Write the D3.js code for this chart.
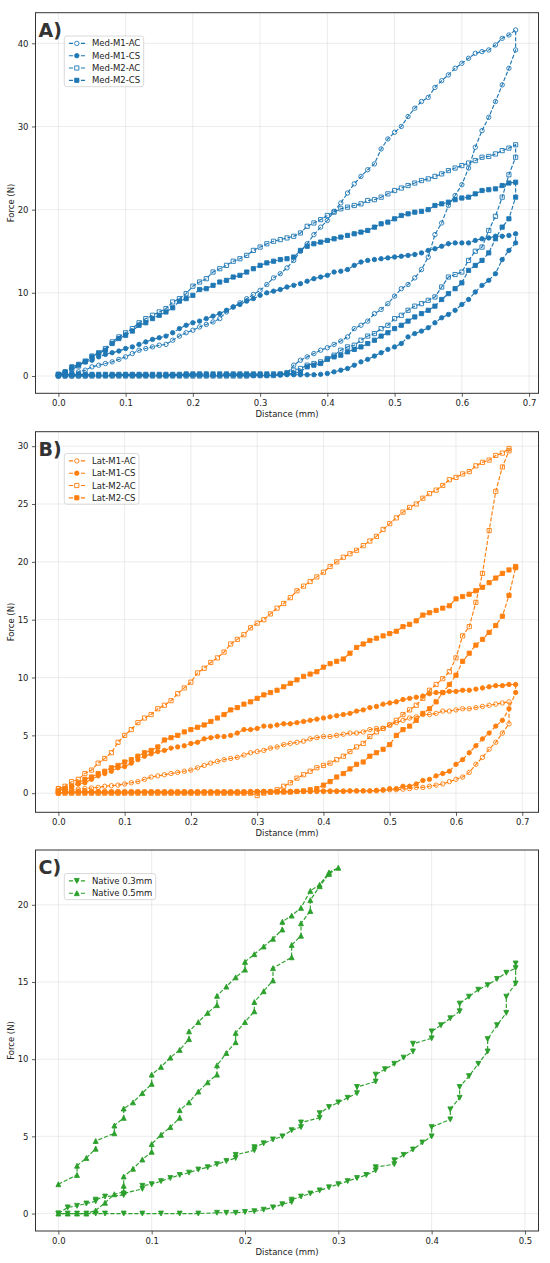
<!DOCTYPE html>
<html>
<head>
<meta charset="utf-8">
<script src="https://cdn.jsdelivr.net/npm/d3@7"></script>
<style>
  body { margin: 0; background: #fff; }
  text { font-family: "DejaVu Sans", sans-serif; }
</style>
</head>
<body>
<div id="chart"></div>
<script>
// distance grid (mm) shared by panels A and B
const distGrid = [0.00, 0.01, 0.02, 0.03, 0.04, 0.05, 0.06, 0.07, 0.08, 0.09,
  0.10, 0.11, 0.12, 0.13, 0.14, 0.15, 0.16, 0.17, 0.18, 0.19,
  0.20, 0.21, 0.22, 0.23, 0.24, 0.25, 0.26, 0.27, 0.28, 0.29,
  0.30, 0.31, 0.32, 0.33, 0.34, 0.35, 0.36, 0.37, 0.38, 0.39,
  0.40, 0.41, 0.42, 0.43, 0.44, 0.45, 0.46, 0.47, 0.48, 0.49,
  0.50, 0.51, 0.52, 0.53, 0.54, 0.55, 0.56, 0.57, 0.58, 0.59,
  0.60, 0.61, 0.62, 0.63, 0.64, 0.65, 0.66, 0.67, 0.68, 0.69];

// ---- panel A: medial (force N, loading from 0 up, unloading from max down) ----
const medM1AC_load = [0, 0.1, 0.3, 0.5, 0.7, 1.1, 1.3, 1.5, 1.7, 2.0,
  2.3, 2.7, 3.1, 3.3, 3.5, 3.7, 3.8, 4.3, 4.8, 5.2,
  5.5, 5.9, 6.2, 6.5, 6.9, 7.7, 8.3, 8.8, 9.3, 9.8,
  10.3, 11.0, 11.8, 12.3, 13.0, 13.9, 15.0, 15.9, 17.0, 17.9,
  18.7, 19.8, 20.8, 22.0, 23.1, 24.0, 24.8, 25.5, 27.3, 28.5,
  29.3, 30.0, 31.2, 32.2, 33.0, 33.5, 34.7, 35.5, 36.2, 37.0,
  37.6, 38.2, 38.8, 39.0, 39.2, 39.8, 40.6, 41.0, 41.6];
const medM1AC_unload = [39.2, 37.0, 35.0, 33.0, 31.1, 29.5, 27.5, 25.0, 23.0, 21.7,
  20.5, 18.4, 17.0, 14.3, 12.8, 11.8, 11.0, 10.5, 9.6, 8.7,
  8.0, 7.5, 6.6, 6.1, 5.7, 4.7, 4.2, 3.8, 3.4, 3.1,
  2.7, 2.3, 1.9, 1.3, 0.3, 0.1, 0.1, 0.05, 0.05, 0.05,
  0.05, 0.05, 0.05, 0.05, 0.05, 0.05, 0.05, 0.05, 0.05, 0.05,
  0.05, 0.05, 0.05, 0.05, 0.05, 0.05, 0.05, 0.05, 0.05, 0.05,
  0.05, 0.05, 0.05, 0.05, 0, 0, 0, 0, 0];

const medM1CS_load = [0.1, 0.5, 0.9, 1.3, 1.7, 1.9, 2.3, 2.6, 2.8, 3.0,
  3.3, 3.5, 3.8, 4.1, 4.4, 4.6, 4.8, 5.2, 5.7, 6.1,
  6.4, 6.6, 6.9, 7.2, 7.5, 7.9, 8.3, 8.6, 9.0, 9.3,
  9.7, 10.0, 10.2, 10.4, 10.7, 10.9, 11.1, 11.4, 11.7, 11.9,
  12.1, 12.5, 12.6, 12.8, 13.3, 13.7, 13.9, 14.0, 14.1, 14.2,
  14.3, 14.4, 14.5, 14.6, 14.8, 15.1, 15.3, 15.6, 15.9, 16.0,
  16.0, 16.0, 16.3, 16.5, 16.6, 16.8, 16.8, 16.9, 17.1];
const medM1CS_unload = [16.0, 15.1, 14.0, 12.3, 11.5, 10.9, 10.1, 9.2, 8.6, 7.9,
  7.4, 7.0, 6.4, 5.8, 5.4, 5.1, 4.7, 3.9, 3.5, 3.2,
  2.8, 2.4, 2.0, 1.7, 1.3, 0.9, 0.7, 0.5, 0.3, 0.2,
  0.15, 0.15, 0.15, 0.15, 0.15, 0.15, 0.15, 0.15, 0.15, 0.15,
  0.15, 0.15, 0.15, 0.15, 0.15, 0.15, 0.15, 0.15, 0.15, 0.15,
  0.1, 0.1, 0.1, 0.1, 0.1, 0.1, 0.1, 0.1, 0.1, 0.1,
  0.1, 0.1, 0.1, 0.1, 0.1, 0.1, 0.1, 0.1, 0.1];

const medM2AC_load = [0.1, 0.4, 0.8, 1.2, 1.8, 2.4, 2.8, 3.3, 4.1, 4.7,
  5.2, 5.7, 6.4, 6.9, 7.3, 7.7, 8.1, 8.9, 9.3, 9.9,
  10.8, 11.3, 11.7, 12.5, 12.9, 13.3, 13.8, 14.1, 14.5, 15.1,
  15.5, 15.9, 16.2, 16.4, 16.6, 16.8, 17.2, 18.0, 18.4, 18.8,
  19.3, 19.7, 20.1, 20.3, 20.5, 20.7, 21.1, 21.2, 21.5, 21.9,
  22.3, 22.6, 22.9, 23.2, 23.5, 23.7, 24.0, 24.3, 24.7, 25.0,
  25.3, 25.6, 25.9, 26.3, 26.4, 26.7, 27.1, 27.4, 27.8];
const medM2AC_unload = [26.3, 24.2, 21.5, 19.2, 17.5, 15.5, 15.0, 13.9, 12.5, 12.2,
  11.9, 10.7, 9.5, 9.1, 8.7, 8.4, 7.9, 7.3, 6.9, 6.1,
  5.7, 5.1, 4.8, 4.3, 3.7, 3.5, 3.1, 2.5, 2.1, 1.7,
  1.5, 1.3, 0.9, 0.7, 0.4, 0.2, 0.05, 0.05, 0.05, 0.05,
  0, 0, 0, 0, 0, 0, 0, 0, 0, 0,
  0, 0, 0, 0, 0, 0, 0, 0, 0, 0,
  0, 0, 0, 0, 0, 0, 0, 0, 0];

const medM2CS_load = [0.2, 0.5, 1.1, 1.4, 1.7, 2.3, 2.7, 3.1, 3.9, 4.5,
  4.9, 5.4, 6.1, 6.4, 6.9, 7.3, 7.7, 8.2, 9.0, 9.3,
  9.7, 10.4, 10.5, 10.9, 11.3, 11.5, 11.9, 12.1, 12.5, 12.9,
  13.3, 13.6, 13.8, 14.0, 14.1, 14.3, 15.1, 15.6, 15.9, 16.1,
  16.3, 16.5, 16.7, 16.9, 17.1, 17.3, 17.5, 17.9, 18.3, 18.5,
  18.9, 19.3, 19.5, 19.7, 19.8, 20.0, 20.5, 20.7, 20.9, 21.2,
  21.4, 21.5, 21.9, 22.3, 22.4, 22.5, 22.9, 23.2, 23.3];
const medM2CS_unload = [21.5, 18.9, 17.9, 16.5, 14.8, 13.9, 13.3, 12.7, 11.2, 10.5,
  9.9, 9.2, 8.4, 7.9, 7.5, 7.1, 6.6, 6.1, 5.7, 5.2,
  4.8, 4.3, 3.9, 3.5, 3.2, 2.9, 2.5, 2.3, 2.0, 1.5,
  1.3, 1.1, 0.5, 0.3, 0.3, 0.25, 0.25, 0.25, 0.25, 0.25,
  0.25, 0.25, 0.25, 0.25, 0.25, 0.25, 0.25, 0.25, 0.25, 0.25,
  0.2, 0.2, 0.2, 0.2, 0.2, 0.2, 0.2, 0.2, 0.2, 0.2,
  0.2, 0.2, 0.2, 0.2, 0.2, 0.2, 0.2, 0.2, 0.2];

// ---- panel B: lateral ----
const latM1AC_load = [0.4, 0.3, 0.3, 0.35, 0.4, 0.45, 0.5, 0.6, 0.65, 0.7,
  0.8, 0.9, 1.0, 1.2, 1.4, 1.5, 1.6, 1.7, 1.8, 1.9,
  2.0, 2.2, 2.4, 2.6, 2.75, 2.9, 3.0, 3.1, 3.3, 3.5,
  3.6, 3.7, 3.9, 4.0, 4.2, 4.3, 4.4, 4.5, 4.7, 4.8,
  4.9, 4.9, 5.0, 5.1, 5.2, 5.2, 5.3, 5.5, 5.6, 5.6,
  5.9, 6.1, 6.3, 6.5, 6.6, 6.8, 6.8, 6.9, 7.1, 7.1,
  7.2, 7.3, 7.3, 7.4, 7.5, 7.6, 7.7, 7.8, 7.9];
const latM1AC_unload = [6.0, 5.2, 4.4, 3.8, 3.1, 2.5, 1.8, 1.4, 1.2, 1.0,
  0.8, 0.7, 0.6, 0.5, 0.5, 0.4, 0.35, 0.3, 0.3, 0.25,
  0.2, 0.2, 0.2, 0.2, 0.2, 0.2, 0.2, 0.2, 0.2, 0.2,
  0.15, 0.15, 0.15, 0.15, 0.15, 0.15, 0.15, 0.15, 0.15, 0.15,
  0.1, 0.1, 0.1, 0.1, 0.1, 0.1, 0.1, 0.1, 0.1, 0.1,
  0.1, 0.1, 0.1, 0.1, 0.1, 0.1, 0.1, 0.1, 0.1, 0.1,
  0.1, 0.1, 0.1, 0.1, 0.1, 0.1, 0.1, 0.1, 0];

const latM1CS_load = [0.2, 0.4, 0.6, 0.8, 0.9, 1.2, 1.5, 1.7, 1.9, 2.2,
  2.3, 2.6, 2.9, 3.2, 3.4, 3.6, 3.7, 3.9, 4.0, 4.1,
  4.3, 4.4, 4.7, 4.8, 4.9, 4.9, 5.0, 5.2, 5.5, 5.5,
  5.6, 5.8, 5.8, 5.9, 6.0, 6.0, 6.1, 6.2, 6.3, 6.4,
  6.5, 6.6, 6.7, 6.8, 6.9, 7.1, 7.2, 7.4, 7.5, 7.7,
  7.8, 7.9, 8.1, 8.2, 8.3, 8.4, 8.6, 8.7, 8.7, 8.8,
  8.8, 8.9, 8.9, 9.0, 9.1, 9.2, 9.3, 9.3, 9.4, 9.4];
const latM1CS_unload = [8.7, 7.3, 6.3, 5.8, 5.2, 4.7, 4.1, 3.5, 2.9, 2.5,
  1.9, 1.7, 1.5, 1.2, 1.1, 0.8, 0.6, 0.6, 0.4, 0.4,
  0.3, 0.25, 0.2, 0.2, 0.2, 0.2, 0.15, 0.15, 0.15, 0.15,
  0.15, 0.15, 0.15, 0.15, 0.15, 0.15, 0.15, 0.15, 0.15, 0.15,
  0.1, 0.1, 0.1, 0.1, 0.1, 0.1, 0.1, 0.1, 0.1, 0.1,
  0.1, 0.1, 0.1, 0.1, 0.1, 0.1, 0.1, 0.1, 0.1, 0.1,
  0.1, 0.1, 0.1, 0.1, 0.1, 0.1, 0.1, 0.1, 0.1, 0.05];

const latM2AC_load = [0.4, 0.6, 1.0, 1.2, 1.7, 2.0, 2.6, 3.0, 3.5, 4.4,
  5.0, 5.5, 6.1, 6.5, 6.8, 7.3, 7.6, 8.0, 8.6, 9.1,
  9.6, 10.4, 10.8, 11.3, 11.7, 12.2, 12.9, 13.3, 13.7, 14.3,
  14.7, 15.0, 15.5, 16.0, 16.4, 16.9, 17.5, 17.9, 18.3, 18.7,
  19.1, 19.6, 20.0, 20.4, 20.7, 21.0, 21.4, 21.8, 22.2, 22.8,
  23.3, 23.8, 24.3, 24.7, 25.0, 25.5, 25.9, 26.2, 26.6, 27.1,
  27.3, 27.6, 27.8, 28.3, 28.6, 28.8, 29.2, 29.4, 29.8];
const latM2AC_unload = [29.6, 28.2, 26.1, 22.7, 19.0, 16.5, 14.4, 13.6, 11.7, 10.5,
  9.9, 9.4, 8.9, 8.2, 7.6, 7.2, 6.8, 6.3, 5.9, 5.6,
  5.3, 4.9, 4.3, 4.0, 3.6, 3.2, 2.9, 2.6, 2.4, 2.2,
  1.9, 1.6, 1.3, 0.9, 0.6, 0.3, 0.1, 0.0, -0.2, 0.0,
  0, 0, 0, 0, 0, 0, 0, 0, 0, 0,
  0, 0, 0, 0, 0, 0, 0, 0, 0, 0,
  0, 0, 0, 0, 0, 0, 0, 0, 0];

const latM2CS_load = [0.2, 0.4, 0.6, 0.9, 1.2, 1.4, 1.7, 1.9, 2.2, 2.4,
  2.7, 2.9, 3.2, 3.5, 3.7, 4.0, 4.6, 4.8, 5.0, 5.3,
  5.5, 5.7, 5.9, 6.2, 6.5, 6.8, 7.2, 7.4, 7.7, 7.9,
  8.2, 8.5, 8.7, 8.9, 9.2, 9.5, 9.8, 10.1, 10.3, 10.5,
  10.9, 11.2, 11.4, 11.6, 12.1, 12.6, 12.9, 13.2, 13.4, 13.6,
  13.8, 14.0, 14.4, 14.6, 14.9, 15.4, 15.6, 15.8, 16.0, 16.2,
  16.8, 17.0, 17.2, 17.5, 17.8, 18.2, 18.6, 19.0, 19.3, 19.6];
const latM2CS_unload = [19.5, 17.1, 15.3, 14.5, 13.9, 13.3, 12.8, 12.1, 11.4, 10.2,
  9.4, 8.7, 7.9, 7.3, 6.9, 6.3, 5.8, 5.5, 5.0, 4.2,
  3.8, 3.5, 3.2, 2.7, 2.5, 2.1, 1.7, 1.4, 1.0, 0.7,
  0.4, 0.3, 0.2, 0.15, 0.1, 0.1, 0.1, 0.1, 0.1, 0.1,
  0.1, 0.1, 0.1, 0.1, 0.1, 0.1, 0.1, 0.1, 0.1, 0.1,
  0.1, 0.1, 0.1, 0.1, 0.1, 0.1, 0.1, 0.1, 0.1, 0.1,
  0.1, 0.1, 0.1, 0.1, 0.1, 0.1, 0.1, 0.1, 0.1, 0.1];

// ---- panel C: native (explicit distance / force pairs) ----
const native03_dist = [0, 0.01, 0.02, 0.03, 0.04, 0.04, 0.05, 0.07, 0.07, 0.09,
  0.09, 0.10, 0.11, 0.12, 0.13, 0.14, 0.15, 0.16, 0.17, 0.18,
  0.19, 0.19, 0.21, 0.21, 0.22, 0.23, 0.24, 0.25, 0.26, 0.26,
  0.28, 0.28, 0.29, 0.30, 0.31, 0.32, 0.32, 0.34, 0.34, 0.35,
  0.36, 0.37, 0.38, 0.38, 0.40, 0.40, 0.41, 0.42, 0.43, 0.43,
  0.44, 0.45, 0.46, 0.47, 0.48, 0.49, 0.49,
  0.49, 0.48, 0.48, 0.47, 0.46, 0.46, 0.45, 0.44, 0.43, 0.43,
  0.42, 0.42, 0.40, 0.40, 0.39, 0.38, 0.37, 0.36, 0.36, 0.34,
  0.34, 0.33, 0.32, 0.31, 0.30, 0.29, 0.28, 0.27, 0.26, 0.25,
  0.25, 0.24, 0.23, 0.22, 0.21, 0.20, 0.19, 0.18, 0.17, 0.15,
  0.13, 0.11, 0.09, 0.07, 0.05, 0.04, 0.03, 0.02, 0.01, 0];
const native03_force = [0, 0.4, 0.5, 0.65, 0.8, 0.9, 1.1, 1.2, 1.3, 1.6,
  1.8, 1.9, 2.1, 2.3, 2.5, 2.65, 2.85, 3.0, 3.2, 3.4,
  3.6, 3.8, 4.1, 4.3, 4.55, 4.8, 5.0, 5.4, 5.6, 5.9,
  6.2, 6.5, 6.9, 7.2, 7.5, 7.8, 8.2, 8.55, 9.0, 9.35,
  9.7, 10.1, 10.5, 11.0, 11.35, 11.8, 12.2, 12.65, 13.1, 13.6,
  14.05, 14.5, 14.8, 15.2, 15.6, 15.9, 16.2,
  14.9, 14.05, 13.0, 12.2, 11.3, 10.5, 9.7, 8.9, 8.2, 7.5,
  6.75, 6.1, 5.6, 5.0, 4.6, 4.15, 3.8, 3.45, 3.2, 3.0,
  2.8, 2.5, 2.3, 2.1, 1.9, 1.7, 1.5, 1.3, 1.1, 0.9,
  0.75, 0.6, 0.4, 0.25, 0.15, 0.1, 0.05, 0.05, 0.05, 0,
  0, 0, 0, 0, 0, 0, 0, 0, 0, 0];

const native05_dist = [0, 0.02, 0.02, 0.03, 0.04, 0.04, 0.06, 0.06, 0.07, 0.07,
  0.08, 0.09, 0.10, 0.10, 0.11, 0.12, 0.13, 0.14, 0.14, 0.15,
  0.16, 0.17, 0.17, 0.18, 0.19, 0.20, 0.20, 0.21, 0.22, 0.23,
  0.24, 0.24, 0.25, 0.26, 0.27, 0.28, 0.29, 0.30,
  0.29, 0.28, 0.27, 0.27, 0.26, 0.26, 0.25, 0.25, 0.23, 0.23,
  0.22, 0.21, 0.21, 0.20, 0.19, 0.19, 0.18, 0.17, 0.17, 0.16,
  0.15, 0.14, 0.13, 0.13, 0.12, 0.11, 0.10, 0.10, 0.09, 0.08,
  0.07, 0.07, 0.07, 0.06, 0.05, 0.04, 0.03, 0.02, 0.01, 0];
const native05_force = [1.9, 2.5, 3.1, 3.6, 4.2, 4.7, 5.2, 5.7, 6.2, 6.8,
  7.2, 7.8, 8.4, 9.0, 9.5, 10.1, 10.6, 11.3, 11.8, 12.4,
  13.0, 13.5, 14.1, 14.7, 15.3, 15.8, 16.3, 16.8, 17.3, 17.8,
  18.4, 18.9, 19.3, 19.8, 20.9, 21.3, 22.1, 22.4,
  22.0, 21.2, 20.3, 19.6, 18.8, 18.0, 17.4, 16.6, 15.9, 15.1,
  14.4, 13.7, 13.1, 12.4, 11.7, 11.1, 10.4, 9.6, 9.0, 8.5,
  7.9, 7.2, 6.7, 6.2, 5.6, 5.1, 4.5, 4.0, 3.5, 2.9,
  2.4, 1.8, 1.4, 1.25, 0.7, 0.2, 0, 0, 0, 0];

// ticks
const xTicksAB = [0.0, 0.1, 0.2, 0.3, 0.4, 0.5, 0.6, 0.7];
const xTicksC = [0.0, 0.1, 0.2, 0.3, 0.4, 0.5];
const yTicksA = [0, 10, 20, 30, 40];
const yTicksB = [0, 5, 10, 15, 20, 25, 30];
const yTicksC = [0, 5, 10, 15, 20];

const blue = "#1f77b4", orange = "#ff7f0e", green = "#2ca02c";

function loopPoints(load, unload) {
  const n = load.length;
  const up = load.map((f, i) => [distGrid[i], f]);
  const down = unload.map((f, i) => [distGrid[n - 1 - i], f]);
  return up.concat(down);
}
function pairPoints(dist, force) {
  return dist.map((d, i) => [d, force[i]]);
}

const markerPath = {
  circle: r => `M${r},0A${r},${r} 0 1,1 ${-r},0A${r},${r} 0 1,1 ${r},0Z`,
  square: s => `M${-s},${-s}h${2 * s}v${2 * s}h${-2 * s}Z`,
  triUp: s => `M0,${-s}L${s},${s}L${-s},${s}Z`,
  triDown: s => `M0,${s}L${s},${-s}L${-s},${-s}Z`
};
const markerSize = { circle: 2.2, square: 2.1, triUp: 2.45, triDown: 2.45 };

const panels = [
  {
    label: "A)", top: 12.7, bottom: 393.3,
    xDomain: [-0.034, 0.714], yDomain: [-2.08, 43.68],
    xTicks: xTicksAB, yTicks: yTicksA, legendTop: 36,
    series: [
      { name: "Med-M1-AC", color: blue, marker: "circle", hollow: true, pts: loopPoints(medM1AC_load, medM1AC_unload) },
      { name: "Med-M1-CS", color: blue, marker: "circle", hollow: false, pts: loopPoints(medM1CS_load, medM1CS_unload) },
      { name: "Med-M2-AC", color: blue, marker: "square", hollow: true, pts: loopPoints(medM2AC_load, medM2AC_unload) },
      { name: "Med-M2-CS", color: blue, marker: "square", hollow: false, pts: loopPoints(medM2CS_load, medM2CS_unload) }
    ]
  },
  {
    label: "B)", top: 431.7, bottom: 812.3,
    xDomain: [-0.0345, 0.7245], yDomain: [-1.65, 31.25],
    xTicks: xTicksAB, yTicks: yTicksB, legendTop: 453.5,
    series: [
      { name: "Lat-M1-AC", color: orange, marker: "circle", hollow: true, pts: loopPoints(latM1AC_load, latM1AC_unload) },
      { name: "Lat-M1-CS", color: orange, marker: "circle", hollow: false, pts: loopPoints(latM1CS_load, latM1CS_unload) },
      { name: "Lat-M2-AC", color: orange, marker: "square", hollow: true, pts: loopPoints(latM2AC_load, latM2AC_unload) },
      { name: "Lat-M2-CS", color: orange, marker: "square", hollow: false, pts: loopPoints(latM2CS_load, latM2CS_unload) }
    ]
  },
  {
    label: "C)", top: 850, bottom: 1231,
    xDomain: [-0.0245, 0.5145], yDomain: [-1.13, 23.55],
    xTicks: xTicksC, yTicks: yTicksC, legendTop: 873.5,
    series: [
      { name: "Native 0.3mm", color: green, marker: "triDown", hollow: false, pts: pairPoints(native03_dist, native03_force) },
      { name: "Native 0.5mm", color: green, marker: "triUp", hollow: false, pts: pairPoints(native05_dist, native05_force) }
    ]
  }
];

const width = 550, height = 1263;
const left = 35.5, right = 538.5;
const fs = 8.5;

const svg = d3.select("#chart")
  .append("svg")
  .attr("width", width)
  .attr("height", height);

panels.forEach(p => {
  const x = d3.scaleLinear().domain(p.xDomain).range([left, right]);
  const y = d3.scaleLinear().domain(p.yDomain).range([p.bottom, p.top]);
  const g = svg.append("g");

  // grid
  g.append("g").selectAll("line.gx")
    .data(p.xTicks).enter().append("line")
    .attr("x1", d => x(d)).attr("x2", d => x(d))
    .attr("y1", p.top).attr("y2", p.bottom)
    .attr("stroke", "#b0b0b0").attr("stroke-opacity", 0.3).attr("stroke-width", 0.8);
  g.append("g").selectAll("line.gy")
    .data(p.yTicks).enter().append("line")
    .attr("x1", left).attr("x2", right)
    .attr("y1", d => y(d)).attr("y2", d => y(d))
    .attr("stroke", "#b0b0b0").attr("stroke-opacity", 0.3).attr("stroke-width", 0.8);

  // series
  const line = d3.line().x(d => x(d[0])).y(d => y(d[1]));
  p.series.forEach(s => {
    g.append("path")
      .attr("d", line(s.pts))
      .attr("fill", "none")
      .attr("stroke", s.color)
      .attr("stroke-width", 1.15)
      .attr("stroke-dasharray", "4.2,1.8");
    g.append("g").selectAll("path")
      .data(s.pts).enter().append("path")
      .attr("transform", d => `translate(${x(d[0])},${y(d[1])})`)
      .attr("d", markerPath[s.marker](markerSize[s.marker]))
      .attr("fill", s.hollow ? "none" : s.color)
      .attr("stroke", s.color)
      .attr("stroke-width", 0.9);
  });

  // axes
  const xAxis = g.append("g")
    .attr("transform", `translate(0,${p.bottom})`)
    .call(d3.axisBottom(x).tickValues(p.xTicks).tickFormat(d3.format(".1f")).tickSize(3.5).tickPadding(3));
  const yAxis = g.append("g")
    .attr("transform", `translate(${left},0)`)
    .call(d3.axisLeft(y).tickValues(p.yTicks).tickFormat(d3.format("d")).tickSize(3.5).tickPadding(3.5));
  [xAxis, yAxis].forEach(a => {
    a.select(".domain").remove();
    a.selectAll(".tick line").attr("stroke", "#333").attr("stroke-width", 0.8);
    a.selectAll(".tick text").attr("fill", "#222").style("font-size", fs + "px")
      .style("font-family", '"DejaVu Sans", sans-serif');
  });

  // frame
  g.append("rect")
    .attr("x", left).attr("y", p.top)
    .attr("width", right - left).attr("height", p.bottom - p.top)
    .attr("fill", "none").attr("stroke", "#333").attr("stroke-width", 1);

  // axis labels
  g.append("text")
    .attr("x", (left + right) / 2).attr("y", p.bottom + 23.5)
    .attr("text-anchor", "middle").attr("fill", "#222")
    .style("font-size", fs + "px")
    .text("Distance (mm)");
  g.append("text")
    .attr("transform", `translate(14,${(p.top + p.bottom) / 2}) rotate(-90)`)
    .attr("text-anchor", "middle").attr("fill", "#222")
    .style("font-size", fs + "px")
    .text("Force (N)");

  // panel label
  g.append("text")
    .attr("x", 38.5).attr("y", p.top + 23.8)
    .attr("fill", "#333").style("font-size", "19px").style("font-weight", "bold")
    .text(p.label);

  // legend
  const lx = 64.3, rowH = 12.3, pad = 3.4;
  const leg = g.append("g");
  const box = leg.append("rect")
    .attr("x", lx).attr("y", p.legendTop)
    .attr("rx", 2.5).attr("ry", 2.5)
    .attr("fill", "#fff").attr("fill-opacity", 0.8)
    .attr("stroke", "#d0d0d0").attr("stroke-width", 0.8);
  let maxW = 0;
  p.series.forEach((s, i) => {
    const cy = p.legendTop + 7.4 + i * rowH;
    leg.append("line")
      .attr("x1", lx + pad + 0.6).attr("x2", lx + pad + 17.6)
      .attr("y1", cy).attr("y2", cy)
      .attr("stroke", s.color).attr("stroke-width", 1.15)
      .attr("stroke-dasharray", "4.2,1.8")
      .attr("stroke-dashoffset", -0.6);
    leg.append("path")
      .attr("transform", `translate(${lx + pad + 9.1},${cy})`)
      .attr("d", markerPath[s.marker](markerSize[s.marker]))
      .attr("fill", s.hollow ? "#fff" : s.color)
      .attr("stroke", s.color).attr("stroke-width", 0.9);
    const t = leg.append("text")
      .attr("x", lx + 27.7).attr("y", cy + 3)
      .attr("fill", "#222").style("font-size", fs + "px")
      .text(s.name);
    maxW = Math.max(maxW, t.node().getComputedTextLength());
  });
  box.attr("width", 27.7 + maxW + pad)
    .attr("height", 7.4 * 2 + (p.series.length - 1) * rowH - 1);
});
</script>
</body>
</html>
